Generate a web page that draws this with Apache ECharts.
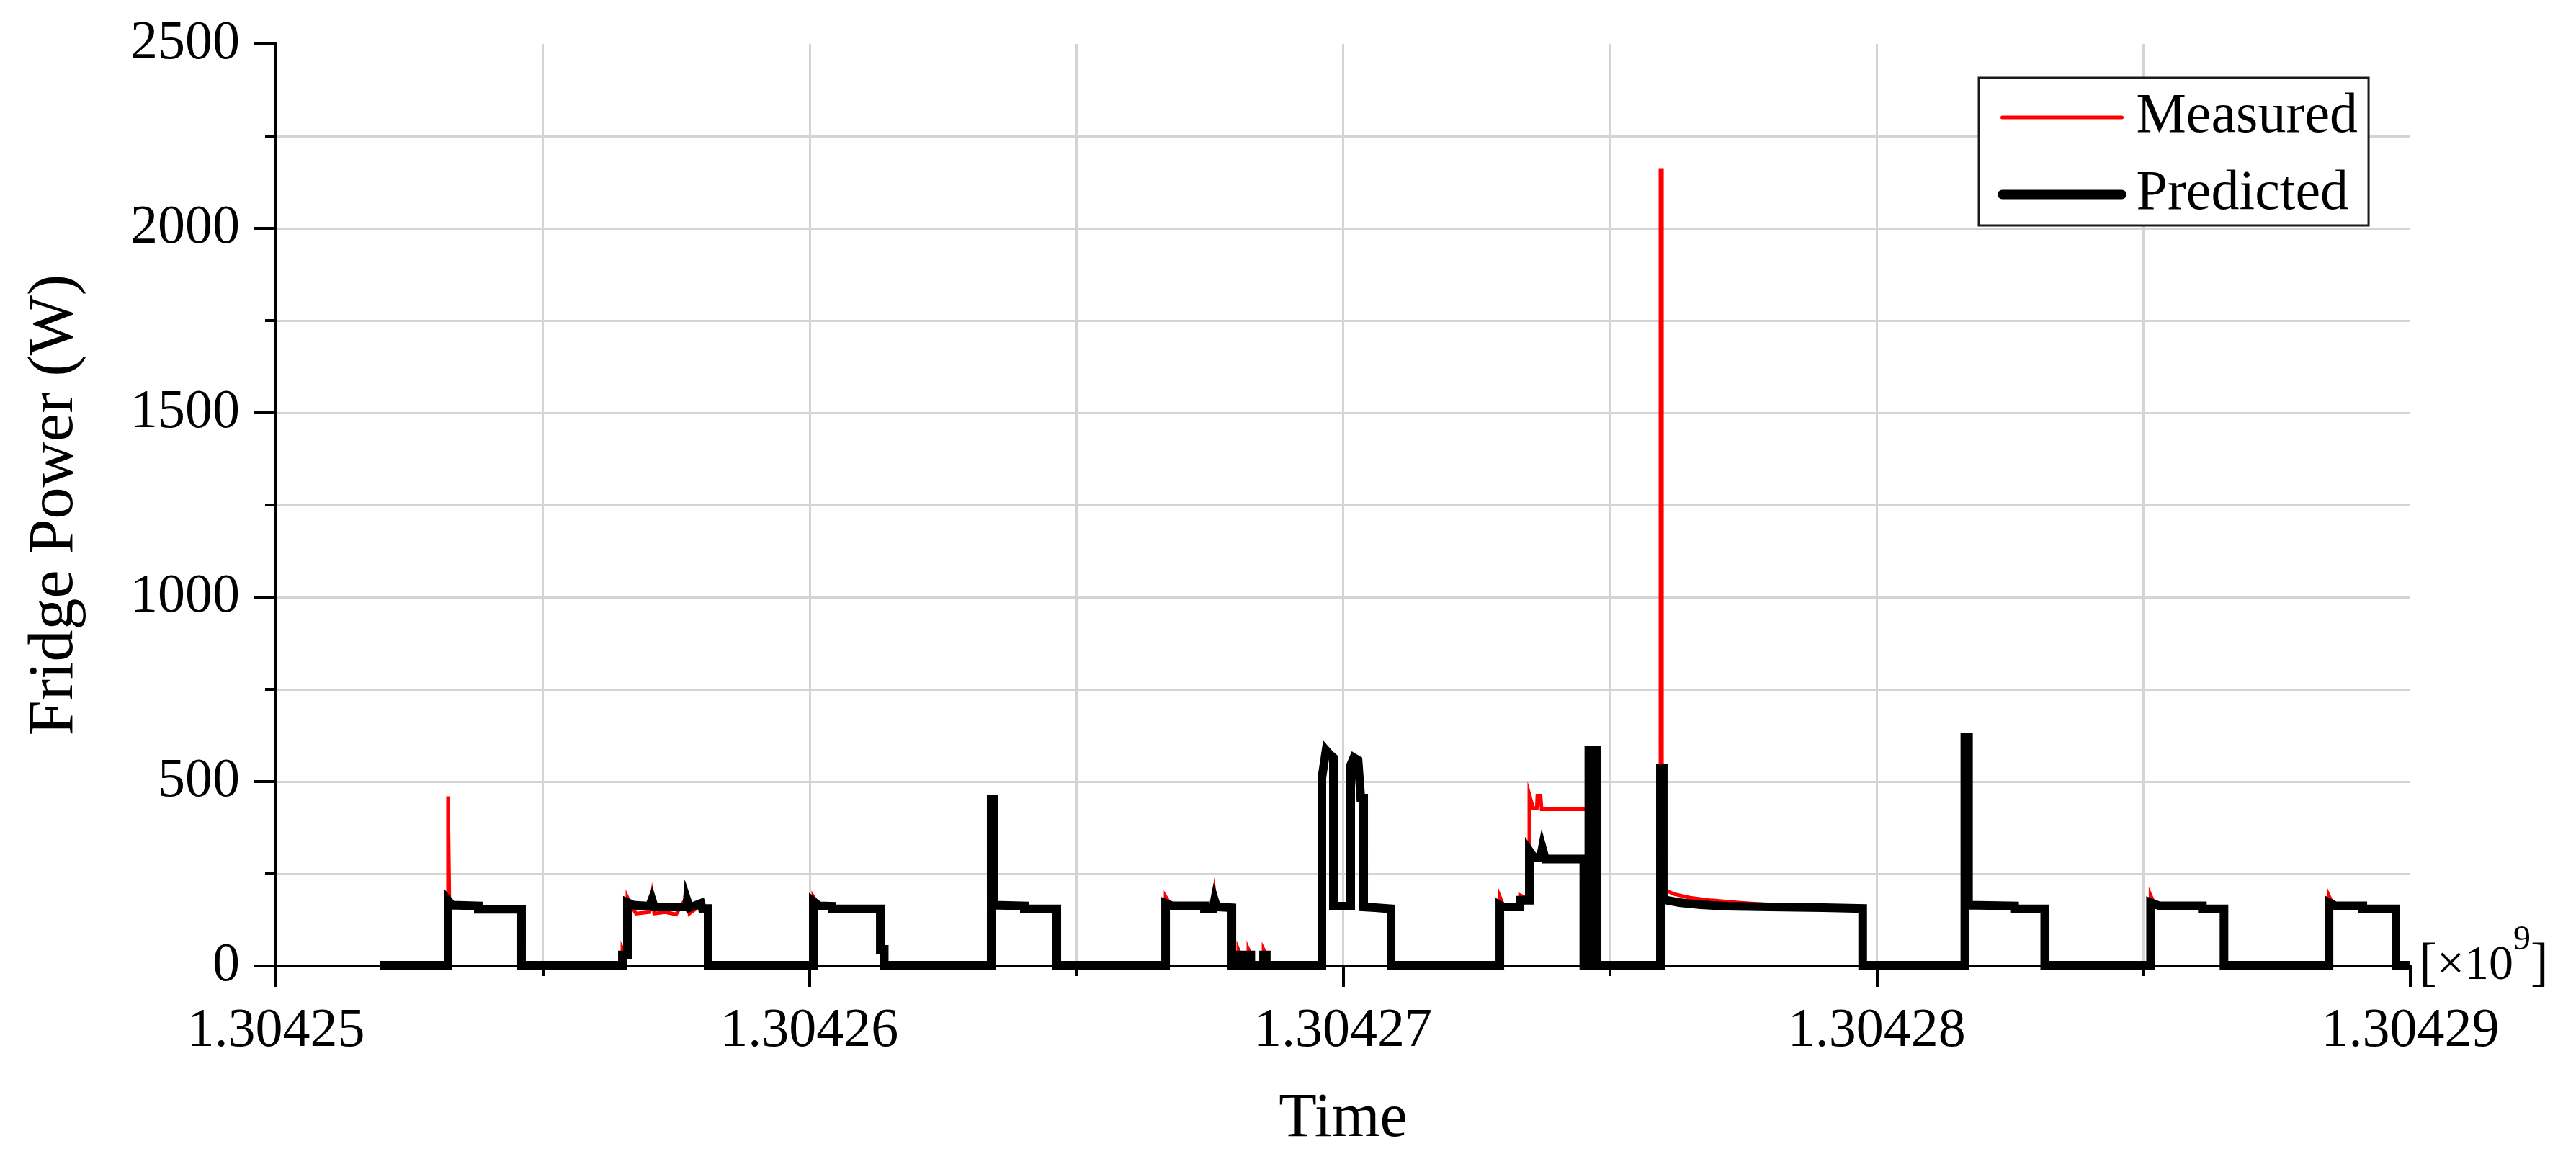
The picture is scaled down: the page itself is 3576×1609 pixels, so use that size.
<!DOCTYPE html>
<html><head><meta charset="utf-8">
<script src="https://cdn.jsdelivr.net/npm/echarts@6/dist/echarts.min.js"></script>
<style>html,body{margin:0;padding:0;background:#fff}#c{width:3576px;height:1609px}</style>
</head><body><div id="c"></div>
<script>
// ---- data (time in Unix seconds, power in W) ----
const seriesNames = ['Measured', 'Predicted'];
const xTickLabels = ['1.30425', '1.30426', '1.30427', '1.30428', '1.30429'];
const yTickLabels = ['0', '500', '1000', '1500', '2000', '2500'];
const xMin = 1304250000, xMax = 1304290000, xStep = 10000;
const yMin = 0, yMax = 2500, yStep = 500;

const measured = [
  [1304251950,2],[1304253226,2],[1304253226,460],[1304253250,185],[1304253300,170],[1304253793,165],[1304253793,155],[1304254603,155],[1304254603,2],
  [1304256494,2],[1304256494,48],[1304256560,30],[1304256588,30],[1304256588,185],[1304256650,165],[1304256750,142],[1304257000,146],[1304257047,192],[1304257090,142],[1304257300,146],[1304257500,140],[1304257709,190],[1304257750,142],[1304257965,165],[1304258100,150],[1304258100,2],
  [1304260071,2],[1304260071,188],[1304260150,170],[1304260422,162],[1304260422,155],[1304261327,155],[1304261327,45],[1304261400,45],[1304261400,2],
  [1304263405,2],[1304263405,455],[1304263450,455],[1304263450,178],[1304263500,165],[1304264026,163],[1304264026,155],[1304264634,155],[1304264634,2],
  [1304266673,2],[1304266673,188],[1304266760,168],[1304267402,163],[1304267402,155],[1304267560,155],[1304267591,200],[1304267630,160],[1304267915,158],[1304267915,2],
  [1304268036,2],[1304268036,45],[1304268080,30],[1304268080,2],[1304268225,2],[1304268225,45],[1304268270,30],[1304268270,2],[1304268509,2],[1304268509,45],[1304268560,30],[1304268560,2],
  [1304269602,2],[1304269602,510],[1304269680,585],[1304269760,572],[1304269818,565],[1304269818,162],[1304270142,162],[1304270142,545],[1304270200,565],[1304270280,558],[1304270331,455],[1304270385,455],[1304270385,160],[1304270600,158],[1304270898,155],[1304270898,2],
  [1304272937,2],[1304272937,188],[1304273000,165],[1304273315,165],[1304273315,192],[1304273490,180],[1304273490,465],[1304273560,428],[1304273630,428],[1304273640,462],[1304273700,462],[1304273720,425],[1304274565,425],[1304274565,290],[1304274570,2],[1304274605,2],[1304274605,585],[1304274754,585],[1304274754,2],
  [1304275947,2],[1304275947,2158],[1304275975,2158],[1304275975,210],[1304276200,195],[1304276500,185],[1304276900,178],[1304277400,172],[1304278000,166],[1304279000,160],[1304279737,158],[1304279737,2],
  [1304281652,2],[1304281652,622],[1304281720,622],[1304281720,170],[1304282583,163],[1304282583,155],[1304283149,155],[1304283149,2],
  [1304285132,2],[1304285132,192],[1304285200,170],[1304285300,165],[1304286103,163],[1304286103,155],[1304286508,155],[1304286508,2],
  [1304288476,2],[1304288476,190],[1304288540,170],[1304288600,165],[1304289110,163],[1304289110,155],[1304289730,155],[1304289730,2],[1304290000,2]
];

const predicted = [
  [1304251950,2],[1304253226,2],[1304253226,178],[1304253300,165],[1304253793,163],[1304253793,154],[1304254603,154],[1304254603,2],
  [1304256494,2],[1304256494,30],[1304256588,30],[1304256588,172],[1304256700,165],[1304257000,162],[1304257047,180],[1304257090,160],[1304257700,160],[1304257709,176],[1304257750,158],[1304257965,170],[1304257990,156],[1304258100,156],[1304258100,2],
  [1304260071,2],[1304260071,175],[1304260180,163],[1304260422,162],[1304260422,155],[1304261327,155],[1304261327,45],[1304261400,45],[1304261400,2],
  [1304263405,2],[1304263405,452],[1304263450,452],[1304263450,165],[1304264026,163],[1304264026,155],[1304264634,155],[1304264634,2],
  [1304266673,2],[1304266673,170],[1304266800,163],[1304267402,163],[1304267402,155],[1304267560,155],[1304267591,178],[1304267630,160],[1304267915,158],[1304267915,2],
  [1304268036,2],[1304268036,30],[1304268080,30],[1304268080,2],[1304268225,2],[1304268225,30],[1304268270,30],[1304268270,2],[1304268509,2],[1304268509,30],[1304268560,30],[1304268560,2],
  [1304269602,2],[1304269602,510],[1304269680,585],[1304269760,572],[1304269818,565],[1304269818,162],[1304270142,162],[1304270142,545],[1304270200,565],[1304270280,558],[1304270331,455],[1304270385,455],[1304270385,160],[1304270600,158],[1304270898,155],[1304270898,2],
  [1304272937,2],[1304272937,165],[1304273000,160],[1304273315,160],[1304273315,178],[1304273490,178],[1304273490,312],[1304273570,295],[1304273700,295],[1304273733,320],[1304273790,290],[1304274511,290],[1304274511,2],[1304274605,2],[1304274605,585],[1304274754,585],[1304274754,2],
  [1304275947,2],[1304275947,535],[1304276000,535],[1304276000,180],[1304276300,172],[1304276700,166],[1304277200,162],[1304278000,160],[1304279000,158],[1304279737,156],[1304279737,2],
  [1304281652,2],[1304281652,620],[1304281720,620],[1304281720,165],[1304282583,163],[1304282583,155],[1304283149,155],[1304283149,2],
  [1304285132,2],[1304285132,172],[1304285300,163],[1304286103,163],[1304286103,155],[1304286508,155],[1304286508,2],
  [1304288476,2],[1304288476,172],[1304288600,163],[1304289110,163],[1304289110,155],[1304289730,155],[1304289730,2],[1304290000,2]
];

// ---- chart ----
const FONT = '"Liberation Serif", "Times New Roman", serif';
const GRID_COLOR = '#d4d4d4';
const chart = echarts.init(document.getElementById('c'), null, {renderer: 'canvas'});

const gridLine = {show: true, showMinLine: false, showMaxLine: false, lineStyle: {color: GRID_COLOR, width: 3}};

chart.setOption({
  backgroundColor: '#ffffff',
  animation: false,
  grid: {left: 383, right: 230, top: 61, bottom: 268, containLabel: false},
  legend: {
    orient: 'vertical', left: 2747, top: 108,
    padding: [15, 15, 3, 26],
    backgroundColor: '#ffffff', borderColor: '#1a1a1a', borderWidth: 3,
    itemWidth: 166, itemHeight: 40, itemGap: 27,
    selectedMode: false,
    textStyle: {fontFamily: FONT, fontSize: 78, lineHeight: 80, color: '#000', padding: [0, 0, 0, 15]},
    data: [
      {name: seriesNames[0], itemStyle: {opacity: 0}, lineStyle: {width: 5, color: '#ff0000', cap: 'round'}},
      {name: seriesNames[1], itemStyle: {opacity: 0}, lineStyle: {width: 13, color: '#000000', cap: 'round'}}
    ]
  },
  xAxis: [{
    type: 'value', min: xMin, max: xMax, interval: xStep,
    name: 'Time', nameLocation: 'middle', nameGap: 170,
    nameTextStyle: {fontFamily: FONT, fontSize: 86, color: '#000'},
    axisLine: {show: true, onZero: false, lineStyle: {color: '#000', width: 4}},
    axisTick: {show: true, length: 29, lineStyle: {color: '#000', width: 4}},
    minorTick: {show: true, splitNumber: 2, length: 14, lineStyle: {color: '#000', width: 4}},
    axisLabel: {margin: 53, fontFamily: FONT, fontSize: 76, color: '#000',
      formatter: v => xTickLabels[Math.round((v - xMin) / xStep)]},
    splitLine: gridLine,
    minorSplitLine: {show: true, lineStyle: {color: GRID_COLOR, width: 3}}
  }, {
    type: 'value', min: xMin, max: xMax, interval: xStep, position: 'bottom',
    name: '{b|[}{a|×10}{s|9}{b|]}', nameLocation: 'end', nameGap: 12,
    nameTextStyle: {
      fontFamily: FONT, color: '#000',
      rich: {
        a: {fontFamily: FONT, fontSize: 68, color: '#000'},
        b: {fontFamily: FONT, fontSize: 74, color: '#000'},
        s: {fontFamily: FONT, fontSize: 48, color: '#000', padding: [0, 0, 72, 0]}
      }
    },
    axisLine: {show: false}, axisTick: {show: false}, axisLabel: {show: false}, splitLine: {show: false}
  }],
  yAxis: {
    type: 'value', min: yMin, max: yMax, interval: yStep,
    name: 'Fridge Power (W)', nameLocation: 'middle', nameGap: 262,
    nameTextStyle: {fontFamily: FONT, fontSize: 88, color: '#000'},
    axisLine: {show: true, lineStyle: {color: '#000', width: 4}},
    axisTick: {show: true, length: 30, lineStyle: {color: '#000', width: 4}},
    minorTick: {show: true, splitNumber: 2, length: 15, lineStyle: {color: '#000', width: 4}},
    axisLabel: {margin: 50, fontFamily: FONT, fontSize: 76, color: '#000',
      formatter: v => yTickLabels[Math.round((v - yMin) / yStep)]},
    splitLine: gridLine,
    minorSplitLine: {show: true, lineStyle: {color: GRID_COLOR, width: 3}}
  },
  series: [{
    name: seriesNames[0], type: 'line', xAxisIndex: 0, data: measured,
    symbol: 'none', showSymbol: false, sampling: null, z: 3,
    lineStyle: {color: '#ff0000', width: 5, join: 'miter'},
    itemStyle: {color: '#ff0000'}
  }, {
    name: seriesNames[1], type: 'line', xAxisIndex: 0, data: predicted,
    symbol: 'none', showSymbol: false, sampling: null, z: 4,
    lineStyle: {color: '#000000', width: 12, join: 'miter'},
    itemStyle: {color: '#000000'}
  }]
});
</script></body></html>
